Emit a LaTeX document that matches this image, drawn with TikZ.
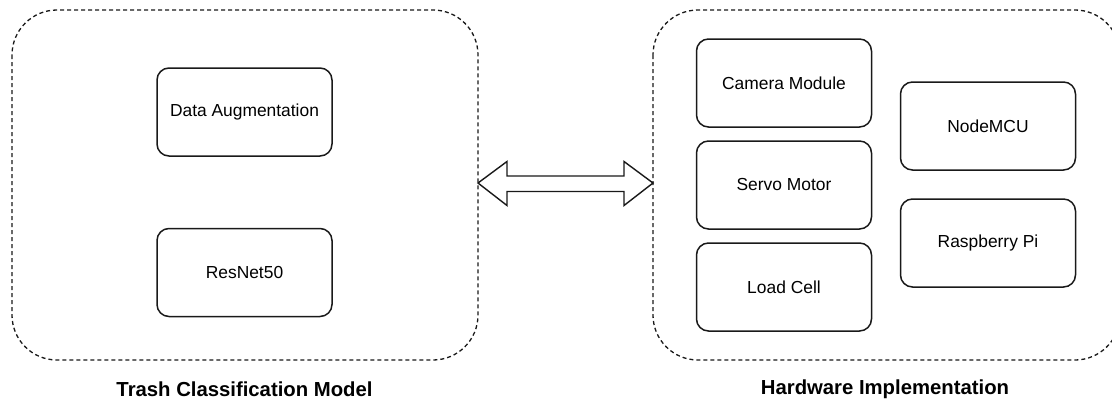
\documentclass[tikz,border=0pt]{standalone}
\usepackage{fontspec}
\setmainfont{Liberation Sans}
\usetikzlibrary{calc}
\begin{document}
\begin{tikzpicture}[x=1pt,y=-1pt,
  container/.style={draw=black!90, line width=1.3pt, dash pattern=on 4pt off 3pt, rounded corners=45pt},
  block/.style={draw=black!90, line width=1.5pt, rounded corners=12pt, minimum width=175pt, minimum height=88pt, inner sep=0pt, font=\fontsize{17.4}{20}\selectfont, text=black},
  caption/.style={font=\fontsize{20.3}{24}\selectfont\bfseries, text=black}]
\useasboundingbox (0,0) rectangle (1112,402);
\clip (0,0) rectangle (1112,402);
% containers
\draw[container] (12,10) rectangle (478,360);
\draw[container] (653,10) rectangle (1120,360);
\coordinate (lc) at (478,183);
\coordinate (rc) at (653,183);
% left blocks
\node[block] (aug) at (244.5,112) {Data Augmentation};
\node[block] (res) at (244.5,272.5) {ResNet50};
% right blocks
\node[block] (cam) at (784,83) {Camera Module};
\node[block] (servo) at (784,185) {Servo Motor};
\node[block] (load) at (784,287) {Load Cell};
\node[block] (mcu) at (988,126) {NodeMCU};
\node[block] (rpi) at (988,243) {Raspberry Pi};
% captions
\node[caption] (t1) at (244.5,389) {Trash Classification Model};
\node[caption] (t2) at (885,389) {Hardware Implementation};
% double arrow
\draw[line width=1.4pt, draw=black!90, fill=white, line join=miter]
  (lc) -- ++(29,-21.5) -- ++(0,14.5) -- ($(rc)+(-29,-7)$) -- ++(0,-14.5) -- (rc)
  -- ++(-29,22.5) -- ++(0,-14) -- ($(lc)+(29,8.5)$) -- ++(0,14) -- cycle;
\end{tikzpicture}
\end{document}
